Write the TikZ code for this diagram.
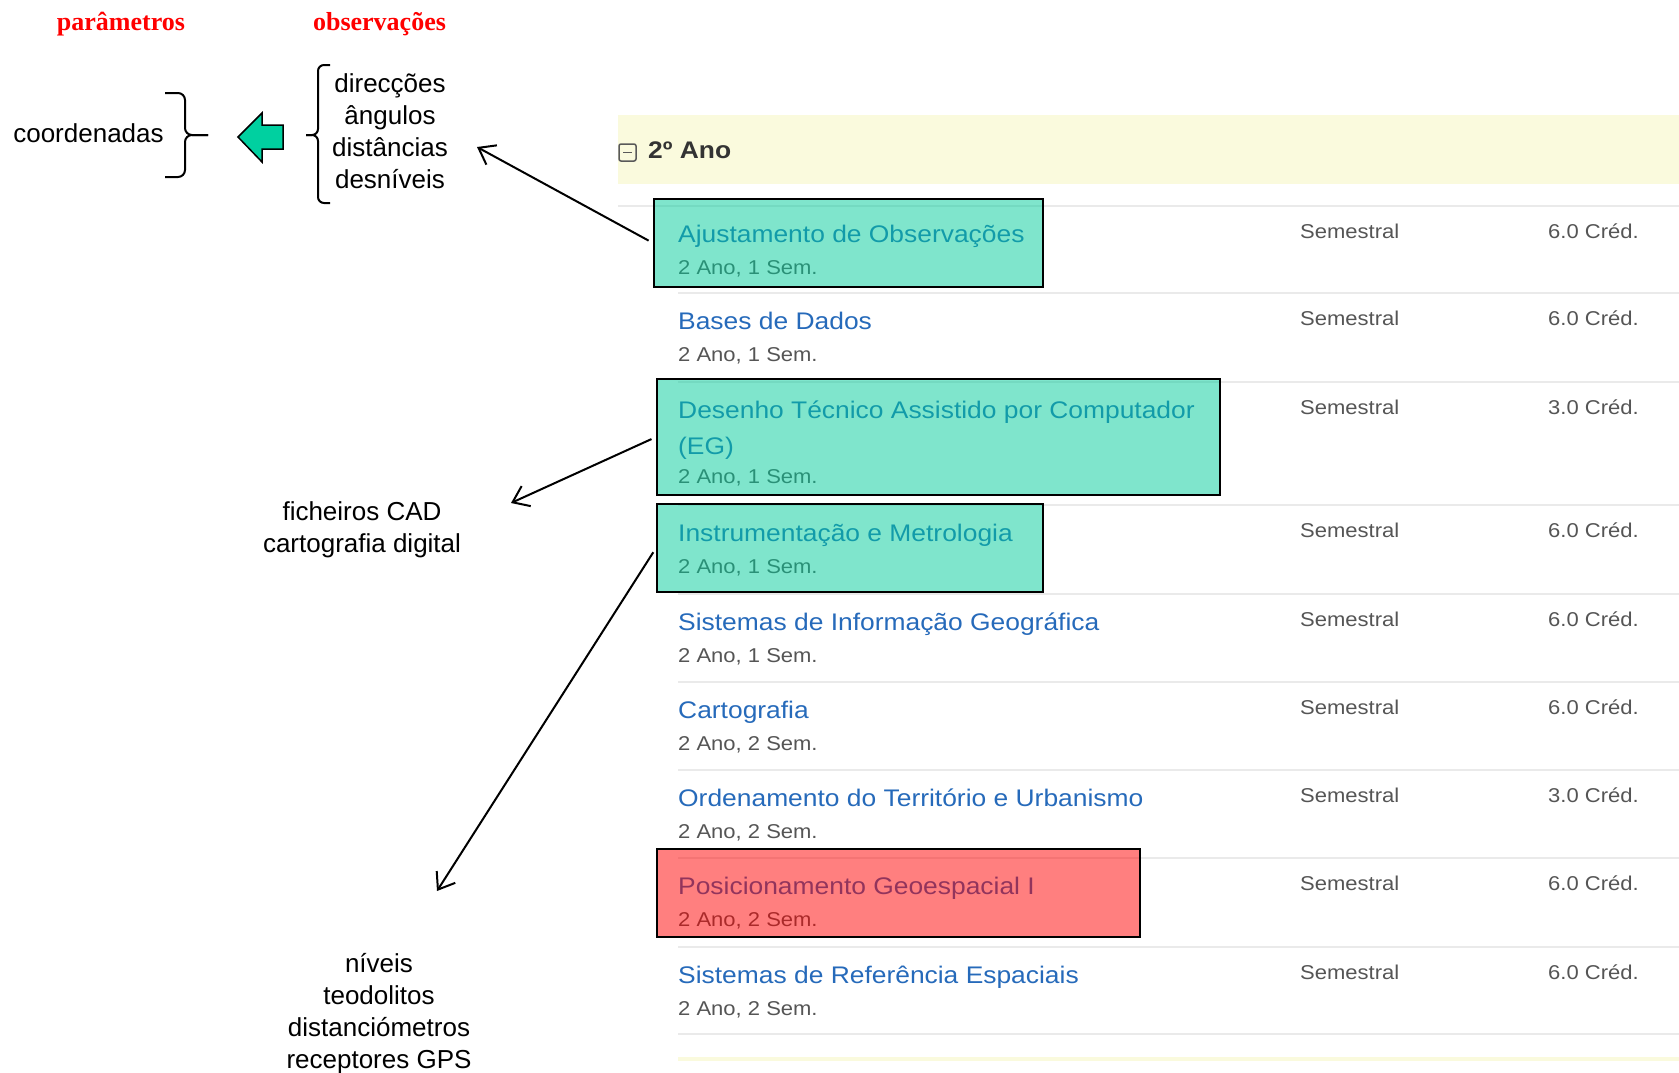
\documentclass[tikz,border=0pt]{standalone}
\usepackage{fontspec}
\setmainfont{Liberation Sans}
\newfontfamily\webfont[FakeStretch=1.1]{Liberation Sans}
\newfontfamily\headfont{Liberation Serif}
\usetikzlibrary{arrows.meta}

\definecolor{linkblue}{RGB}{38,106,186}
\definecolor{subgray}{RGB}{85,85,85}
\definecolor{yeargray}{RGB}{51,51,51}
\definecolor{bandyellow}{RGB}{250,250,221}
\definecolor{sepgray}{RGB}{234,234,234}
\definecolor{markgreen}{RGB}{0,204,153}
\definecolor{markred}{RGB}{255,0,0}
\definecolor{arrowgreen}{RGB}{0,208,160}

\begin{document}
\begin{tikzpicture}[x=1pt,y=-1pt,
    plaintext/.style={inner sep=0pt, align=center, font=\fontsize{26}{32}\selectfont},
    heading/.style={inner sep=0pt, anchor=base, text=red, font=\headfont\bfseries\fontsize{26}{30}\selectfont},
    coursetitle/.style={inner sep=0pt, anchor=base west, text=linkblue, font=\webfont\fontsize{24}{28}\selectfont},
    courseinfo/.style={inner sep=0pt, anchor=base west, text=subgray, font=\webfont\fontsize{20}{24}\selectfont},
    markbox/.style={draw=black, line width=2pt, fill=#1, fill opacity=0.5, inner sep=0pt},
    pointer/.style={line width=2pt, -{Straight Barb[length=15pt,width=22pt]}, shorten <=5pt},
    bracket/.style={line width=2pt, rounded corners=7pt}]
    \useasboundingbox (0,0) rectangle (1679,1072);

    % table of the 2nd year
    \fill[bandyellow] (618,115) rectangle (1679,184);
    \draw[black!65, line width=1.5pt, rounded corners=2pt] (619,144) rectangle (636,161);
    \draw[black!65, line width=1.5pt] (623,152.5) -- (632,152.5);
    \node[inner sep=0pt, anchor=base west, text=yeargray, font=\webfont\bfseries\fontsize{24}{28}\selectfont] (ano) at (648,158.5) {2º Ano};
    \draw[sepgray, line width=2pt] (618,206) -- (1679,206);
    \foreach \y in {293,382,505,594,682,770,858,947,1034}
        \draw[sepgray, line width=2pt] (678,\y) -- (1679,\y);
    \draw[bandyellow, line width=4pt] (678,1059) -- (1679,1059);

    \foreach \i/\top/\name/\sem/\cred/\dy in {1/206/Ajustamento de Observações/1/6.0/0,
        2/293/Bases de Dados/1/6.0/0,
        3/382/Desenho Técnico Assistido por Computador/1/3.0/33,
        4/505/Instrumentação e Metrologia/1/6.0/0,
        5/594/Sistemas de Informação Geográfica/1/6.0/0,
        6/682/Cartografia/2/6.0/0,
        7/770/Ordenamento do Território e Urbanismo/2/3.0/0,
        8/858/Posicionamento Geoespacial I/2/6.0/0,
        9/947/Sistemas de Referência Espaciais/2/6.0/0}{
        \node[coursetitle] (t\i) at (678,{\top+36}) {\name};
        \node[courseinfo] (s\i) at (678,{\top+68.5+\dy}) {2 Ano, \sem\ Sem.};
        \node[courseinfo] (r\i) at (1300,{\top+32}) {Semestral};
        \node[courseinfo] (c\i) at (1548,{\top+32}) {\cred\ Créd.};
    }
    \node[coursetitle] (t3b) at (678,454) {(EG)};

    % highlighted courses
    \node[markbox=markgreen, minimum width=389pt, minimum height=88pt] (box1) at (848.5,243) {};
    \node[markbox=markgreen, minimum width=563pt, minimum height=116pt] (box2) at (938.5,437) {};
    \node[markbox=markgreen, minimum width=386pt, minimum height=88pt] (box3) at (850,548) {};
    \node[markbox=markred, minimum width=483pt, minimum height=88pt] (box4) at (898.5,893) {};

    % parameters and observations
    \node[heading] (param) at (121,30) {parâmetros};
    \node[heading] (obs) at (379.5,30) {observações};
    \node[plaintext, anchor=base] (coord) at (88.5,142) {coordenadas};
    \draw[bracket] (165,93) -- (185,93) -- (185,135) -- (208,135);
    \draw[bracket] (165,177) -- (185,177) -- (185,135) -- (208,135);
    \draw[fill=arrowgreen, line width=1.5pt] (238,137) -- (262,113) -- (262,125) -- (283,125)
        -- (283,149) -- (262,149) -- (262,162) -- cycle;
    \draw[bracket, rounded corners=6pt] (330,65) -- (318,65) -- (318,135) -- (306,135);
    \draw[bracket, rounded corners=6pt] (330,203) -- (318,203) -- (318,135) -- (306,135);
    \node[plaintext] (obslist) at (390,131.5) {direcções\\ângulos\\distâncias\\desníveis};

    \node[plaintext] (cad) at (362,530) {ficheiros CAD\\cartografia digital};
    \node[plaintext] (instr) at (379,1014) {níveis\\teodolitos\\distanciómetros\\receptores GPS};

    \coordinate (tip1) at (477,147);
    \coordinate (tip2) at (511,503);
    \coordinate (tip3) at (437,891);
    \draw[pointer] (box1.west) -- (tip1);
    \draw[pointer] (box2.west) -- (tip2);
    \draw[pointer] (box3.west) -- (tip3);
\end{tikzpicture}
\end{document}
